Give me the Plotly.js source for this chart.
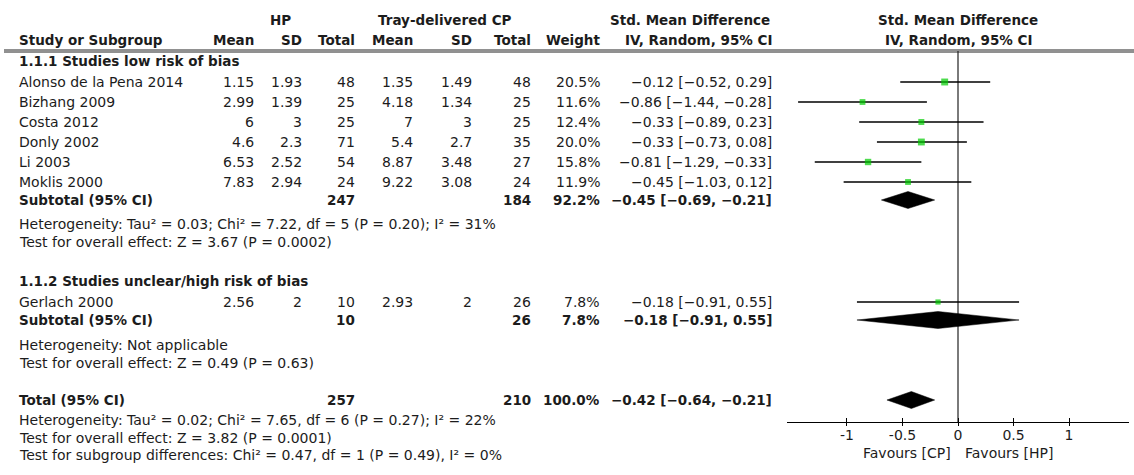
<!DOCTYPE html>
<html><head><meta charset="utf-8">
<script src="https://cdn.plot.ly/plotly-3.0.1.min.js"></script>
<style>html,body{margin:0;padding:0;background:#fff}#chart{width:1134px;height:475px}</style>
</head><body><div id="chart"></div>
<script>
// ---------- data ----------
const studies = ["Alonso de la Pena 2014","Bizhang 2009","Costa 2012","Donly 2002","Li 2003","Moklis 2000","Gerlach 2000"];
const studyGroup = [0,0,0,0,0,0,1];
const hpMean = [1.15, 2.99, 6, 4.6, 6.53, 7.83, 2.56];
const hpSD   = [1.93, 1.39, 3, 2.3, 2.52, 2.94, 2];
const hpN    = [48, 25, 25, 71, 54, 24, 10];
const cpMean = [1.35, 4.18, 7, 5.4, 8.87, 9.22, 2.93];
const cpSD   = [1.49, 1.34, 3, 2.7, 3.48, 3.08, 2];
const cpN    = [48, 25, 25, 35, 27, 24, 26];
const weight = [20.5, 11.6, 12.4, 20.0, 15.8, 11.9, 7.8];
const smd    = [-0.12, -0.86, -0.33, -0.33, -0.81, -0.45, -0.18];
const smdLo  = [-0.52, -1.44, -0.89, -0.73, -1.29, -1.03, -0.91];
const smdHi  = [0.29, -0.28, 0.23, 0.08, -0.33, 0.12, 0.55];

const groupNames   = ["1.1.1 Studies low risk of bias", "1.1.2 Studies unclear/high risk of bias"];
const groupHpTotal = [247, 10];
const groupCpTotal = [184, 26];
const groupWeight  = [92.2, 7.8];
const groupSmd     = [-0.45, -0.18];
const groupLo      = [-0.69, -0.91];
const groupHi      = [-0.21, 0.55];
const groupHet     = ["Heterogeneity: Tau² = 0.03; Chi² = 7.22, df = 5 (P = 0.20); I² = 31%", "Heterogeneity: Not applicable"];
const groupTest    = ["Test for overall effect: Z = 3.67 (P = 0.0002)", "Test for overall effect: Z = 0.49 (P = 0.63)"];

const totalHp = 257, totalCp = 210, totalWeight = 100.0;
const totalSmd = -0.42, totalLo = -0.64, totalHi = -0.21;
const totalHet  = "Heterogeneity: Tau² = 0.02; Chi² = 7.65, df = 6 (P = 0.27); I² = 22%";
const totalTest = "Test for overall effect: Z = 3.82 (P = 0.0001)";
const subgroupTest = "Test for subgroup differences: Chi² = 0.47, df = 1 (P = 0.49), I² = 0%";

const tickVals = [-1, -0.5, 0, 0.5, 1];
const tickText = ["-1", "-0.5", "0", "0.5", "1"];
const favourLeft = "Favours [CP]", favourRight = "Favours [HP]";

// ---------- layout geometry (pixels) ----------
const W = 1134, H = 475;
const ROW = {head1: 20, head2: 40, headLine: 50, axis: 422, fav: 453, step: 20};
const GROUP_ROW = [
  {title: 61, first: 82, sub: 200, het: 224, test: 242},
  {title: 281, first: 302, sub: 320, het: 345, test: 363}
];
const TOTAL_ROW = {sub: 400, het: 420, test: 438, diff: 455};
const COL = {name: 17, hpM: 256, hpSD: 304, hpN: 357, cpM: 415, cpSD: 474, cpN: 533, w: 602, ci: 774, hp: 280, cp: 445, smd: 690, plot: 958};
const PLOT = {left: 787, right: 1129, range: [-1.54, 1.54]};

const FONT = "DejaVu Sans";
const FS = 14, FSB = 13.5;
const TXT = "#1c1c1c";
const fmtNum = v => String(v).replace('-', '−');
const fmtSmd = v => v.toFixed(2).replace('-', '−');
const fmtCI = (e, l, h) => `${fmtSmd(e)} [${fmtSmd(l)}, ${fmtSmd(h)}]`;

// study row positions
const studyY = [];
const counters = [0, 0];
studies.forEach((s, i) => {
  const g = studyGroup[i];
  studyY.push(GROUP_ROW[g].first + counters[g] * ROW.step);
  counters[g]++;
});

// ---------- annotations ----------
const ann = [];
function addText(text, xPx, y, anchor, bold, opts) {
  ann.push(Object.assign({
    text: bold ? `<b>${text}</b>` : text,
    xref: 'paper', yref: 'y', x: xPx / W, y: y,
    xanchor: anchor, yanchor: 'middle', showarrow: false,
    font: {family: FONT, size: bold ? FSB : FS, color: TXT}
  }, opts || {}));
}
// headers
addText("HP", COL.hp, ROW.head1, 'center', true);
addText("Tray-delivered CP", COL.cp, ROW.head1, 'center', true);
addText("Std. Mean Difference", COL.smd, ROW.head1, 'center', true);
addText("Std. Mean Difference", COL.plot, ROW.head1, 'center', true);
addText("Study or Subgroup", COL.name, ROW.head2, 'left', true);
addText("Mean", COL.hpM, ROW.head2, 'right', true);
addText("SD", COL.hpSD, ROW.head2, 'right', true);
addText("Total", COL.hpN, ROW.head2, 'right', true);
addText("Mean", COL.cpM, ROW.head2, 'right', true);
addText("SD", COL.cpSD, ROW.head2, 'right', true);
addText("Total", COL.cpN, ROW.head2, 'right', true);
addText("Weight", COL.w, ROW.head2, 'right', true);
addText("IV, Random, 95% CI", COL.ci, ROW.head2, 'right', true);
addText("IV, Random, 95% CI", COL.plot, ROW.head2, 'center', true);

// studies
studies.forEach((s, i) => {
  const y = studyY[i];
  addText(s, COL.name, y, 'left', false);
  addText(fmtNum(hpMean[i]), COL.hpM, y, 'right', false);
  addText(fmtNum(hpSD[i]), COL.hpSD, y, 'right', false);
  addText(fmtNum(hpN[i]), COL.hpN, y, 'right', false);
  addText(fmtNum(cpMean[i]), COL.cpM, y, 'right', false);
  addText(fmtNum(cpSD[i]), COL.cpSD, y, 'right', false);
  addText(fmtNum(cpN[i]), COL.cpN, y, 'right', false);
  addText(weight[i].toFixed(1) + "%", COL.w, y, 'right', false);
  addText(fmtCI(smd[i], smdLo[i], smdHi[i]), COL.ci, y, 'right', false);
});
// groups
groupNames.forEach((g, k) => {
  const R = GROUP_ROW[k];
  addText(g, COL.name, R.title, 'left', true);
  addText("Subtotal (95% CI)", COL.name, R.sub, 'left', true);
  addText(String(groupHpTotal[k]), COL.hpN, R.sub, 'right', true);
  addText(String(groupCpTotal[k]), COL.cpN, R.sub, 'right', true);
  addText(groupWeight[k].toFixed(1) + "%", COL.w, R.sub, 'right', true);
  addText(fmtCI(groupSmd[k], groupLo[k], groupHi[k]), COL.ci, R.sub, 'right', true);
  addText(groupHet[k], COL.name, R.het, 'left', false);
  addText(groupTest[k], COL.name, R.test, 'left', false);
});
// total
addText("Total (95% CI)", COL.name, TOTAL_ROW.sub, 'left', true);
addText(String(totalHp), COL.hpN, TOTAL_ROW.sub, 'right', true);
addText(String(totalCp), COL.cpN, TOTAL_ROW.sub, 'right', true);
addText(totalWeight.toFixed(1) + "%", COL.w, TOTAL_ROW.sub, 'right', true);
addText(fmtCI(totalSmd, totalLo, totalHi), COL.ci, TOTAL_ROW.sub, 'right', true);
addText(totalHet, COL.name, TOTAL_ROW.het, 'left', false);
addText(totalTest, COL.name, TOTAL_ROW.test, 'left', false);
addText(subgroupTest, COL.name, TOTAL_ROW.diff, 'left', false);
// favours labels
ann.push({text: favourLeft, xref: 'x', yref: 'y', x: 0, y: ROW.fav, xanchor: 'right', yanchor: 'middle', xshift: -5, showarrow: false, font: {family: FONT, size: FS, color: TXT}});
ann.push({text: favourRight, xref: 'x', yref: 'y', x: 0, y: ROW.fav, xanchor: 'left', yanchor: 'middle', xshift: 5, showarrow: false, font: {family: FONT, size: FS, color: TXT}});

// ---------- traces ----------
const ciX = [], ciY = [];
studies.forEach((s, i) => { ciX.push(smdLo[i], smdHi[i], null); ciY.push(studyY[i], studyY[i], null); });
const traces = [];
traces.push({type: 'scatter', mode: 'lines', x: ciX, y: ciY, xaxis: 'x', yaxis: 'y',
  line: {color: '#000', width: 1.5}, hoverinfo: 'skip', showlegend: false});
traces.push({type: 'scatter', mode: 'markers', x: smd, y: studyY, xaxis: 'x2', yaxis: 'y',
  marker: {symbol: 'square', color: '#00cc00', size: weight.map(w => 2.4 + 1.0 * Math.sqrt(w)), line: {width: 0}},
  hoverinfo: 'skip', showlegend: false});
function diamond(e, l, h, y, hh) {
  return {type: 'scatter', mode: 'lines', x: [l, e, h, e, l], y: [y, y - hh, y, y + hh, y],
    xaxis: 'x2', yaxis: 'y', fill: 'toself', fillcolor: '#000', line: {color: '#000', width: 0.5},
    hoverinfo: 'skip', showlegend: false};
}
groupNames.forEach((g, k) => traces.push(diamond(groupSmd[k], groupLo[k], groupHi[k], GROUP_ROW[k].sub, 8.5)));
traces.push(diamond(totalSmd, totalLo, totalHi, TOTAL_ROW.sub, 8.5));

// ---------- layout ----------
const axisPos = (H - ROW.axis) / H;
const xdom = [PLOT.left / W, PLOT.right / W];
const layout = {
  width: W, height: H, margin: {l: 0, r: 0, t: 0, b: 0},
  paper_bgcolor: '#fff', plot_bgcolor: 'rgba(0,0,0,0)',
  font: {family: FONT, size: FS, color: TXT},
  showlegend: false,
  xaxis: {domain: xdom, range: PLOT.range, anchor: 'free', position: axisPos,
    showline: true, linecolor: '#000', linewidth: 1, ticks: 'outside', ticklen: 3, tickwidth: 1, tickcolor: '#000',
    ticklabelstandoff: -3,
    tickvals: tickVals, ticktext: tickText, tickfont: {family: FONT, size: FS, color: TXT},
    showgrid: false, zeroline: false, fixedrange: true},
  xaxis2: {domain: xdom, range: PLOT.range, overlaying: 'x', anchor: 'free', position: axisPos,
    showline: false, ticks: 'inside', ticklen: 4, tickwidth: 1, tickcolor: '#000',
    tickvals: tickVals, showticklabels: false, showgrid: false, zeroline: false, fixedrange: true},
  yaxis: {domain: [0, 1], range: [H, 0], visible: false, fixedrange: true},
  shapes: [
    {type: 'line', xref: 'x', yref: 'y', x0: 0, x1: 0, y0: ROW.headLine + 1, y1: ROW.axis, layer: 'below',
     line: {color: '#7a7a7a', width: 2}},
    {type: 'line', xref: 'paper', yref: 'y', x0: 4 / W, x1: 1, y0: ROW.headLine, y1: ROW.headLine, line: {color: '#222', width: 1}},
    {type: 'line', xref: 'paper', yref: 'y', x0: 4 / W, x1: 1, y0: ROW.headLine + 2, y1: ROW.headLine + 2, line: {color: '#222', width: 1}}
  ],
  annotations: ann
};
Plotly.newPlot('chart', traces, layout, {staticPlot: true, displayModeBar: false});
</script>
</body></html>
